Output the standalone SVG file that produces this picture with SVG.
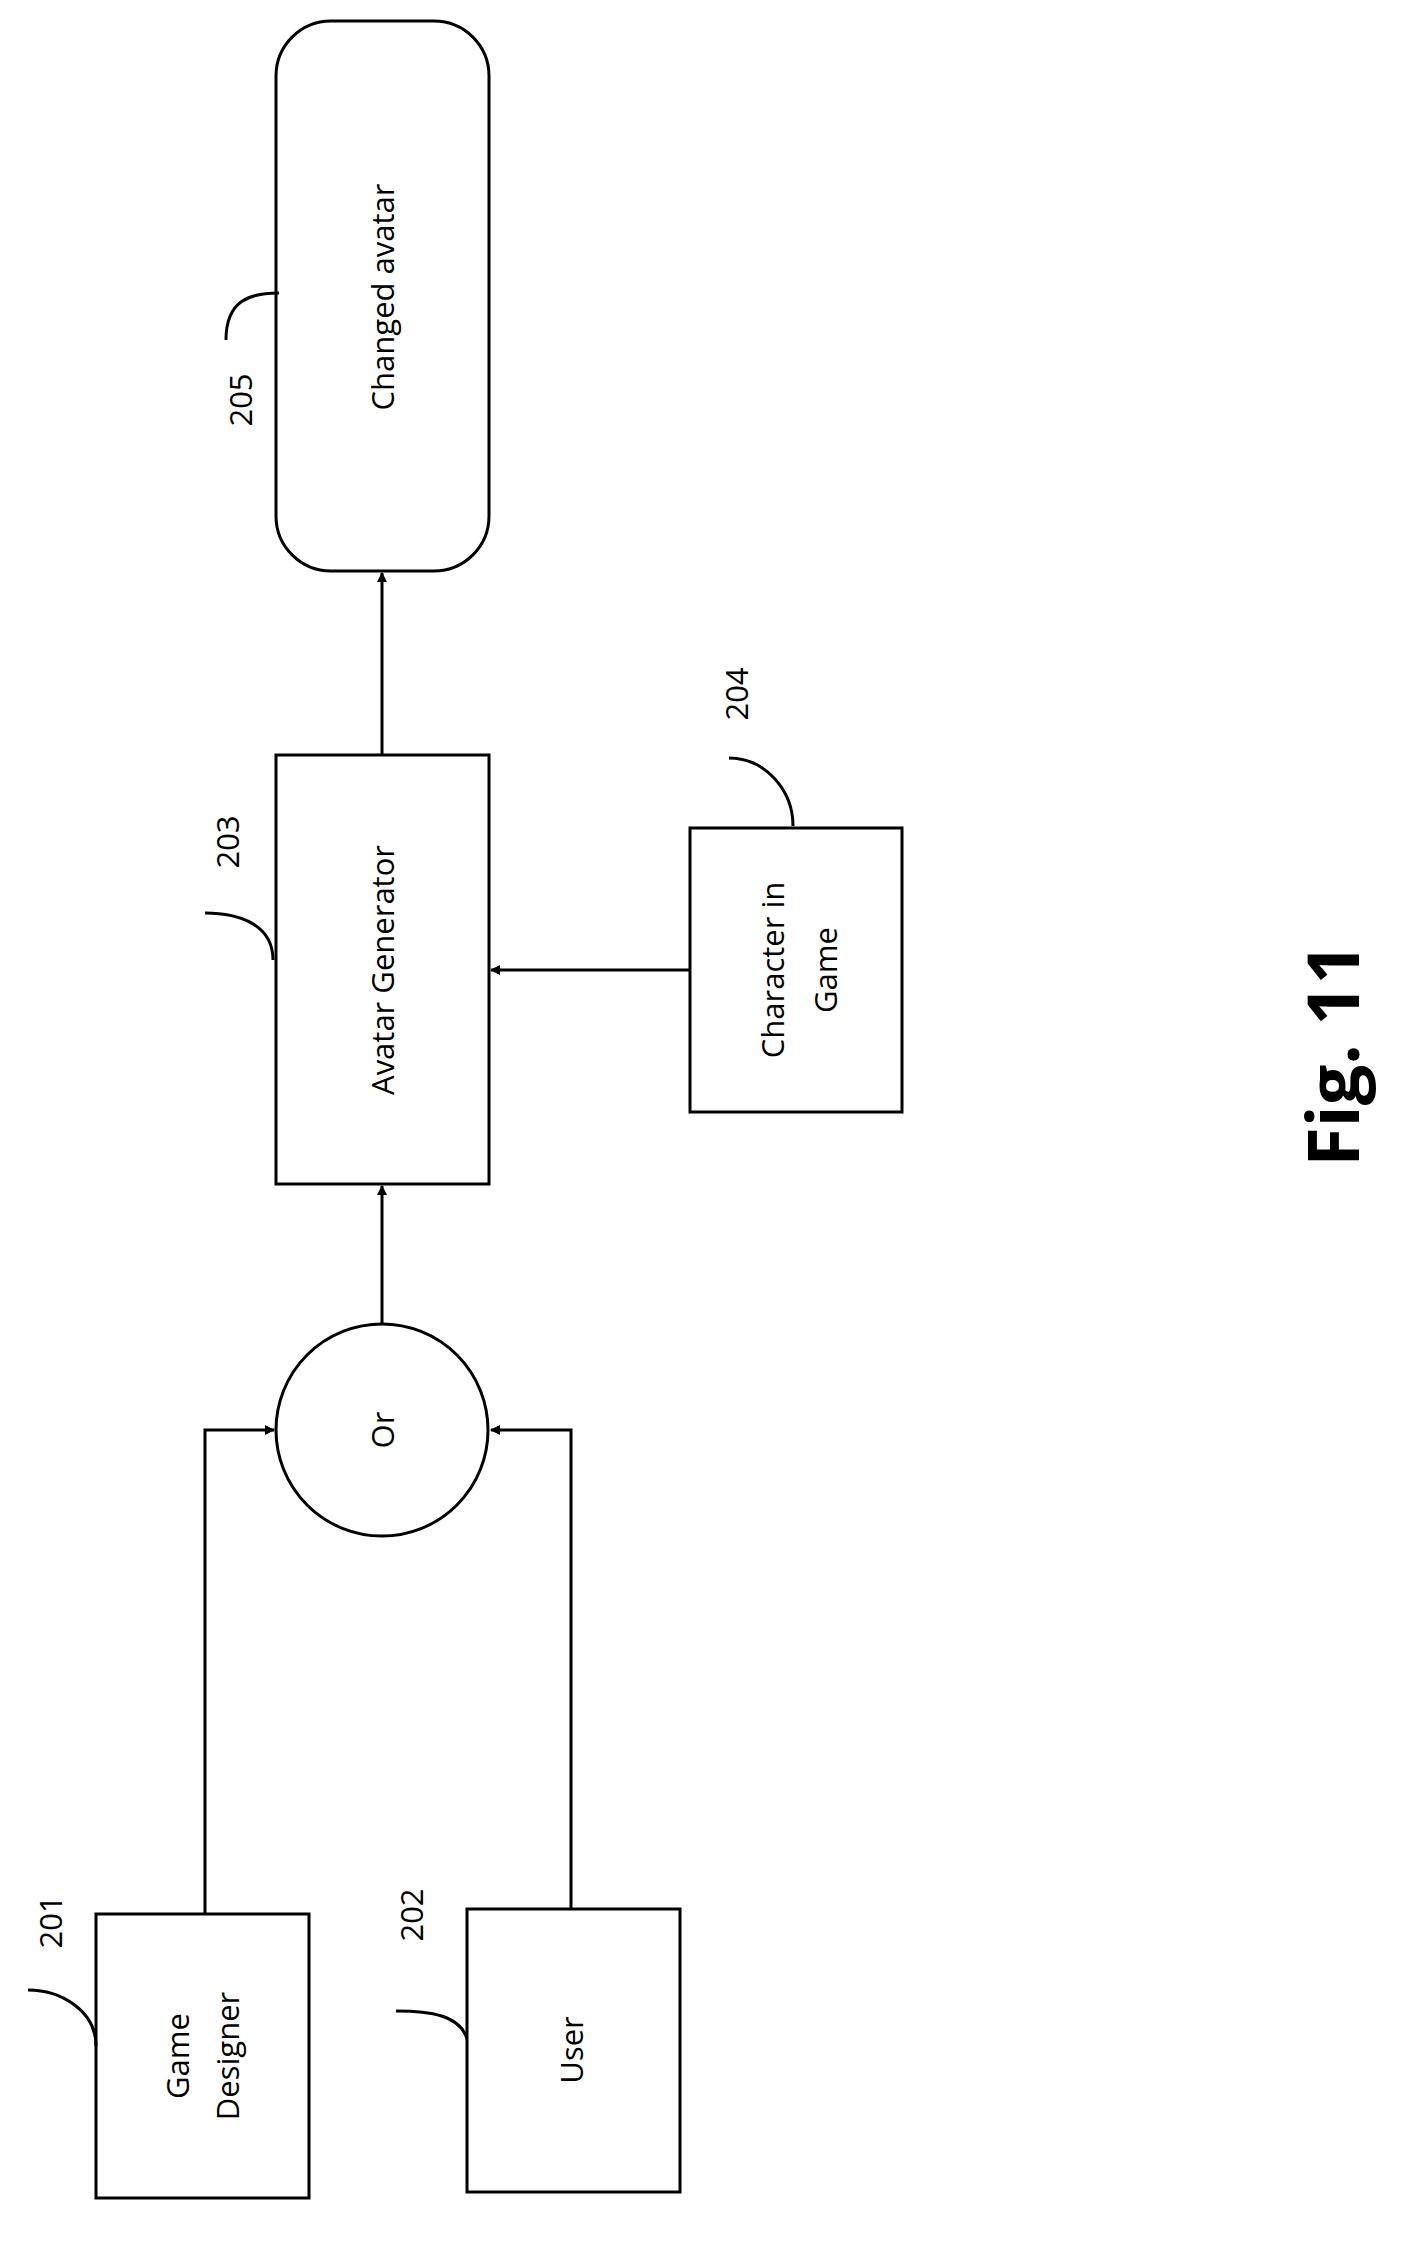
<svg xmlns="http://www.w3.org/2000/svg" width="1416" height="2254" viewBox="0 0 1416 2254">
<style>
.b{fill:#fff;stroke:#000;stroke-width:3}
.t{font-family:"Open Sans","Liberation Sans",sans-serif;font-size:31px;text-anchor:middle;dominant-baseline:central}
.l{fill:none;stroke:#000;stroke-width:3}
</style>
<defs><marker id="a" markerWidth="10" markerHeight="10" refX="9" refY="5" orient="auto" markerUnits="userSpaceOnUse" viewBox="0 0 10 10"><path d="M0,0L10,5L0,10z"/></marker></defs>
<rect width="1416" height="2254" fill="#fff"/>
<g id="connectors" class="l">
<path d="M205,1914V1430H274" marker-end="url(#a)" style="marker-end:url(#a)"/>
<path d="M571,1909V1430H491" marker-end="url(#a)"/>
<path d="M382,1324V1186" marker-end="url(#a)"/>
<path d="M382,755V573" marker-end="url(#a)"/>
<path d="M690,970H491" marker-end="url(#a)"/>
</g>
<defs><marker id="x"/></defs>
<g id="n205"><rect class="b" x="276" y="21" width="213" height="550" rx="55"/><text class="t" transform="translate(382,297) rotate(-90)">Changed avatar</text>
<path class="l" d="M279,293C250,293 226,300 226,340"/><text class="t" transform="translate(240,400) rotate(-90)">205</text></g>
<g id="n203"><rect class="b" x="276" y="755" width="213" height="429"/><text class="t" transform="translate(382,970) rotate(-90)">Avatar Generator</text>
<path class="l" d="M273,960C273,925 240,913 205,913"/><text class="t" transform="translate(227,842) rotate(-90)">203</text></g>
<g id="n204"><rect class="b" x="690" y="828" width="212" height="284"/><text class="t" transform="translate(772,970) rotate(-90)">Character in</text><text class="t" transform="translate(825,970) rotate(-90)">Game</text>
<path class="l" d="M793,826C793,790 765,758 729,758"/><text class="t" transform="translate(736,694) rotate(-90)">204</text></g>
<g id="or"><circle class="b" cx="382" cy="1430" r="106"/><text class="t" transform="translate(382,1430) rotate(-90)">Or</text></g>
<g id="n201"><rect class="b" x="96" y="1914" width="213" height="284"/><text class="t" transform="translate(177,2056) rotate(-90)">Game</text><text class="t" transform="translate(227,2056) rotate(-90)">Designer</text>
<path class="l" d="M96,2046C96,2010 60,1990 28,1990"/><text class="t" transform="translate(50,1922) rotate(-90)">201</text></g>
<g id="n202"><rect class="b" x="467" y="1909" width="213" height="283"/><text class="t" transform="translate(571,2050) rotate(-90)">User</text>
<path class="l" d="M467,2039C460,2015 430,2011 396,2011"/><text class="t" transform="translate(411,1915) rotate(-90)">202</text></g>
<text style="font-family:'Open Sans','Liberation Sans',sans-serif;font-weight:bold;font-size:72px;text-anchor:middle;dominant-baseline:central" transform="translate(1331,1055) rotate(-90)">Fig. 11</text>
</svg>
